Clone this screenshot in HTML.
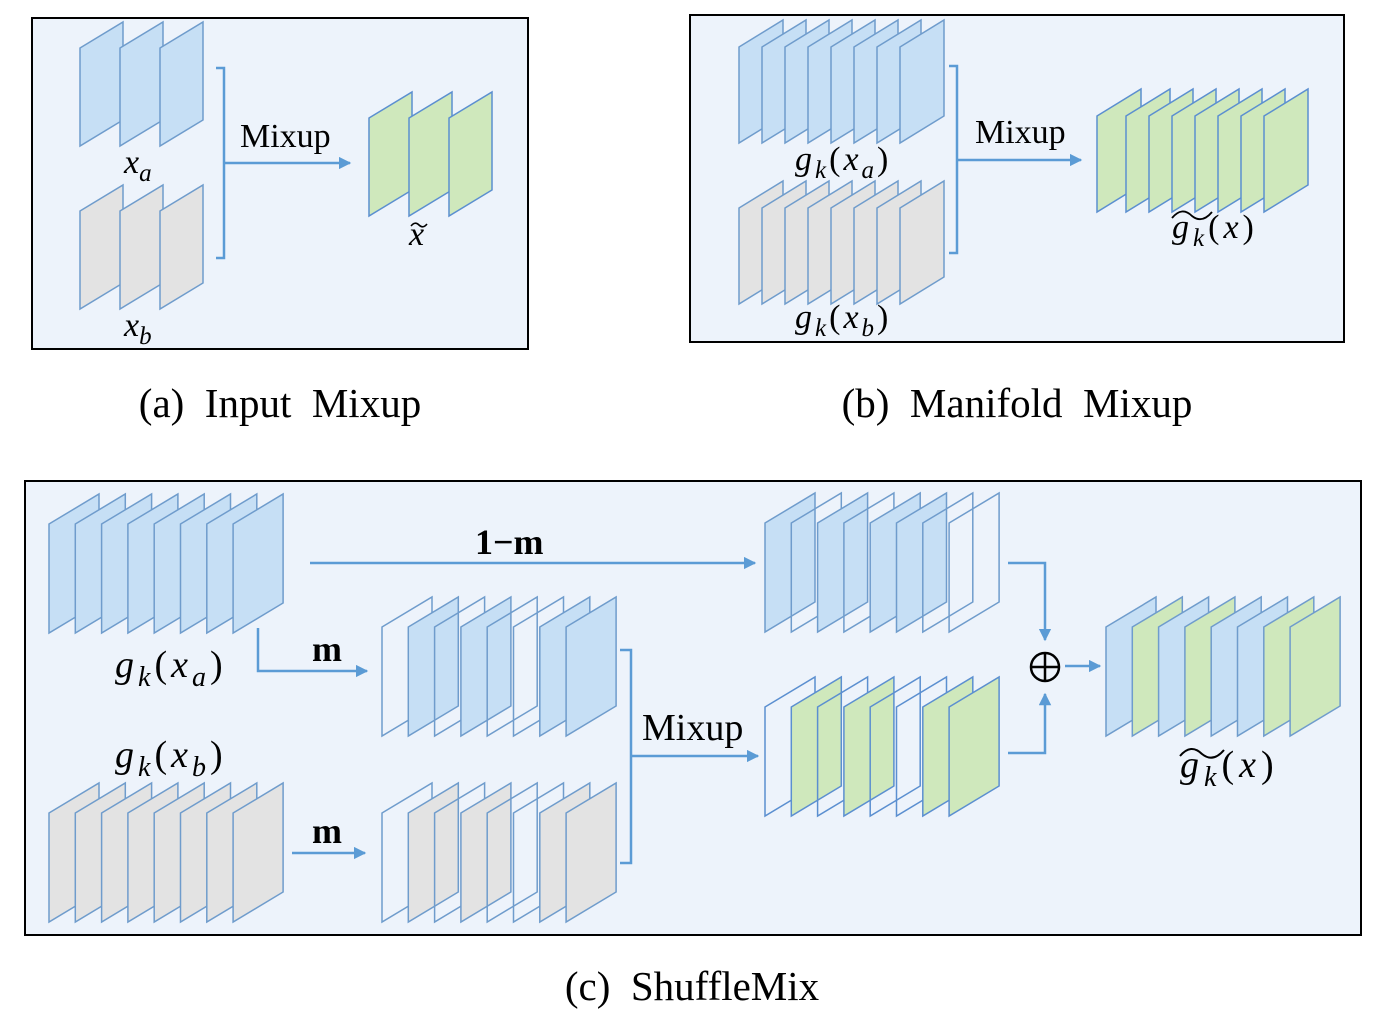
<!DOCTYPE html>
<html><head><meta charset="utf-8"><style>
html,body{margin:0;padding:0;background:#fff;}
svg{display:block;font-family:"Liberation Serif","Times New Roman",serif;}
svg text{font-family:"Liberation Serif","Times New Roman",serif;fill:#000;}
.it{font-style:italic;}
</style></head><body>
<svg width="1386" height="1013" viewBox="0 0 1386 1013" xmlns="http://www.w3.org/2000/svg" font-family="Liberation Serif, serif">
<defs>
<polygon id="pa" points="0,26 43,0 43,98 0,124"/>
<polygon id="pb" points="0,27 44,0 44,96 0,123"/>
<polygon id="pc" points="0,30 50,0 50,109 0,139"/>
<marker id="ar" viewBox="0 0 10 10" refX="9" refY="5" markerWidth="5" markerHeight="5" orient="auto"><path d="M0,0 L10,5 L0,10 z" fill="#5b9bd5"/></marker>
</defs>
<g stroke-width="1.5">
<!-- (a) -->
<rect x="32" y="18" width="496" height="331" fill="#edf3fb" stroke="#000" stroke-width="2"/>
<g fill="#c6dff5" stroke="#6f9ccc"><use href="#pa" x="80" y="22"/><use href="#pa" x="120" y="22"/><use href="#pa" x="160" y="22"/></g>
<g fill="#e3e3e3" stroke="#6f9ccc"><use href="#pa" x="80" y="185"/><use href="#pa" x="120" y="185"/><use href="#pa" x="160" y="185"/></g>
<g fill="#cfe8bc" stroke="#5b8fd0"><use href="#pa" x="369" y="92"/><use href="#pa" x="409" y="92"/><use href="#pa" x="449" y="92"/></g>
<g fill="none" stroke="#5b9bd5" stroke-width="2.5">
<path d="M216,68 H224 V258 H216"/>
<path d="M224,163 H350" marker-end="url(#ar)"/>
</g>
<!-- (b) -->
<rect x="690" y="15" width="654" height="327" fill="#edf3fb" stroke="#000" stroke-width="2"/>
<g fill="#c6dff5" stroke="#6f9ccc">
<use href="#pb" x="739" y="20"/><use href="#pb" x="762" y="20"/><use href="#pb" x="785" y="20"/><use href="#pb" x="808" y="20"/><use href="#pb" x="831" y="20"/><use href="#pb" x="854" y="20"/><use href="#pb" x="877" y="20"/><use href="#pb" x="900" y="20"/></g>
<g fill="#e3e3e3" stroke="#6f9ccc">
<use href="#pb" x="739" y="181"/><use href="#pb" x="762" y="181"/><use href="#pb" x="785" y="181"/><use href="#pb" x="808" y="181"/><use href="#pb" x="831" y="181"/><use href="#pb" x="854" y="181"/><use href="#pb" x="877" y="181"/><use href="#pb" x="900" y="181"/></g>
<g fill="#cfe8bc" stroke="#5b8fd0">
<use href="#pb" x="1097" y="89"/><use href="#pb" x="1126" y="89"/><use href="#pb" x="1149" y="89"/><use href="#pb" x="1172" y="89"/><use href="#pb" x="1195" y="89"/><use href="#pb" x="1218" y="89"/><use href="#pb" x="1241" y="89"/><use href="#pb" x="1264" y="89"/></g>
<g fill="none" stroke="#5b9bd5" stroke-width="2.5">
<path d="M949,66 H957 V253 H949"/>
<path d="M957,160 H1081" marker-end="url(#ar)"/>
</g>
<!-- (c) -->
<rect x="25" y="481" width="1336" height="454" fill="#edf3fb" stroke="#000" stroke-width="2"/>
<g fill="#c6dff5" stroke="#6f9ccc">
<use href="#pc" x="49" y="494"/><use href="#pc" x="75.3" y="494"/><use href="#pc" x="101.6" y="494"/><use href="#pc" x="127.9" y="494"/><use href="#pc" x="154.2" y="494"/><use href="#pc" x="180.5" y="494"/><use href="#pc" x="206.8" y="494"/><use href="#pc" x="233.1" y="494"/></g>
<g fill="#e3e3e3" stroke="#6f9ccc">
<use href="#pc" x="49" y="783"/><use href="#pc" x="75.3" y="783"/><use href="#pc" x="101.6" y="783"/><use href="#pc" x="127.9" y="783"/><use href="#pc" x="154.2" y="783"/><use href="#pc" x="180.5" y="783"/><use href="#pc" x="206.8" y="783"/><use href="#pc" x="233.1" y="783"/></g>
<g stroke="#6f9ccc">
<use href="#pc" x="382" y="597" fill="none"/><use href="#pc" x="408.3" y="597" fill="#c6dff5"/><use href="#pc" x="434.6" y="597" fill="none"/><use href="#pc" x="460.9" y="597" fill="#c6dff5"/><use href="#pc" x="487.2" y="597" fill="none"/><use href="#pc" x="513.5" y="597" fill="none"/><use href="#pc" x="539.8" y="597" fill="#c6dff5"/><use href="#pc" x="566.1" y="597" fill="#c6dff5"/>
</g>
<g stroke="#6f9ccc">
<use href="#pc" x="382" y="783" fill="none"/><use href="#pc" x="408.3" y="783" fill="#e3e3e3"/><use href="#pc" x="434.6" y="783" fill="none"/><use href="#pc" x="460.9" y="783" fill="#e3e3e3"/><use href="#pc" x="487.2" y="783" fill="none"/><use href="#pc" x="513.5" y="783" fill="none"/><use href="#pc" x="539.8" y="783" fill="#e3e3e3"/><use href="#pc" x="566.1" y="783" fill="#e3e3e3"/>
</g>
<g stroke="#6f9ccc">
<use href="#pc" x="765" y="493" fill="#c6dff5"/><use href="#pc" x="791.3" y="493" fill="none"/><use href="#pc" x="817.6" y="493" fill="#c6dff5"/><use href="#pc" x="843.9" y="493" fill="none"/><use href="#pc" x="870.2" y="493" fill="#c6dff5"/><use href="#pc" x="896.5" y="493" fill="#c6dff5"/><use href="#pc" x="922.8" y="493" fill="none"/><use href="#pc" x="949.1" y="493" fill="none"/>
</g>
<g stroke="#5b8fd0">
<use href="#pc" x="765" y="677" fill="none"/><use href="#pc" x="791.3" y="677" fill="#cfe8bc"/><use href="#pc" x="817.6" y="677" fill="none"/><use href="#pc" x="843.9" y="677" fill="#cfe8bc"/><use href="#pc" x="870.2" y="677" fill="none"/><use href="#pc" x="896.5" y="677" fill="none"/><use href="#pc" x="922.8" y="677" fill="#cfe8bc"/><use href="#pc" x="949.1" y="677" fill="#cfe8bc"/>
</g>
<g stroke="#6f9ccc">
<use href="#pc" x="1106" y="597" fill="#c6dff5"/><use href="#pc" x="1132.3" y="597" fill="#cfe8bc"/><use href="#pc" x="1158.6" y="597" fill="#c6dff5"/><use href="#pc" x="1184.9" y="597" fill="#cfe8bc"/><use href="#pc" x="1211.2" y="597" fill="#c6dff5"/><use href="#pc" x="1237.5" y="597" fill="#c6dff5"/><use href="#pc" x="1263.8" y="597" fill="#cfe8bc"/><use href="#pc" x="1290.1" y="597" fill="#cfe8bc"/>
</g>
<g fill="none" stroke="#5b9bd5" stroke-width="2.5">
<path d="M310,563 H755" marker-end="url(#ar)"/>
<path d="M258,628 V671 H367" marker-end="url(#ar)"/>
<path d="M292,853 H365" marker-end="url(#ar)"/>
<path d="M620,650 H631 V863 H620"/>
<path d="M631,756 H758" marker-end="url(#ar)"/>
<path d="M1008,563 H1045 V640" marker-end="url(#ar)"/>
<path d="M1008,753 H1045 V694" marker-end="url(#ar)"/>
<path d="M1065,666 H1100" marker-end="url(#ar)"/>
</g>
<g fill="none" stroke="#000" stroke-width="2.5">
<circle cx="1045" cy="667" r="14"/>
<path d="M1031,667 H1059 M1045,653 V681"/>
</g>
</g>
<!-- text (a) -->
<text x="240" y="147" font-size="34">Mixup</text>
<text x="124" y="173" font-size="34" class="it">x<tspan font-size="25" dy="8">a</tspan></text>
<text x="124" y="336" font-size="34" class="it">x<tspan font-size="25" dy="8">b</tspan></text>
<text x="409" y="245" font-size="34" class="it">x</text>
<path d="M411,226 q4,-5 8,-1 q4,4 8,-1" fill="none" stroke="#000" stroke-width="1.6"/>
<!-- text (b) -->
<text x="975" y="143" font-size="34">Mixup</text>
<text x="795" y="170" font-size="34" class="it" letter-spacing="3">g<tspan font-size="25" dy="8">k</tspan><tspan dy="-8" font-style="normal">(</tspan>x<tspan font-size="25" dy="8">a</tspan><tspan dy="-8" font-style="normal">)</tspan></text>
<text x="795" y="328" font-size="34" class="it" letter-spacing="3">g<tspan font-size="25" dy="8">k</tspan><tspan dy="-8" font-style="normal">(</tspan>x<tspan font-size="25" dy="8">b</tspan><tspan dy="-8" font-style="normal">)</tspan></text>
<text x="1172" y="238" font-size="34" class="it" letter-spacing="4">g<tspan font-size="25" dy="8">k</tspan><tspan dy="-8" font-style="normal">(</tspan>x<tspan font-style="normal">)</tspan></text>
<path d="M1172,218 q10,-12 20,-2 q10,8 20,-4" fill="none" stroke="#000" stroke-width="1.8"/>
<!-- text (c) -->
<text x="475" y="554" font-size="36" font-weight="bold">1−m</text>
<text x="312" y="661" font-size="36" font-weight="bold">m</text>
<text x="312" y="843" font-size="36" font-weight="bold">m</text>
<text x="642" y="740" font-size="38">Mixup</text>
<text x="115" y="677" font-size="38" class="it" letter-spacing="4">g<tspan font-size="28" dy="9">k</tspan><tspan dy="-9" font-style="normal">(</tspan>x<tspan font-size="28" dy="9">a</tspan><tspan dy="-9" font-style="normal">)</tspan></text>
<text x="115" y="767" font-size="38" class="it" letter-spacing="4">g<tspan font-size="28" dy="9">k</tspan><tspan dy="-9" font-style="normal">(</tspan>x<tspan font-size="28" dy="9">b</tspan><tspan dy="-9" font-style="normal">)</tspan></text>
<text x="1180" y="777" font-size="38" class="it" letter-spacing="5">g<tspan font-size="28" dy="9">k</tspan><tspan dy="-9" font-style="normal">(</tspan>x<tspan font-style="normal">)</tspan></text>
<path d="M1180,756 q11,-13 22,-2 q11,9 22,-4" fill="none" stroke="#000" stroke-width="2"/>
<!-- captions -->
<text x="280" y="417" font-size="41" text-anchor="middle" xml:space="preserve">(a)  Input  Mixup</text>
<text x="1017" y="417" font-size="41" text-anchor="middle" xml:space="preserve">(b)  Manifold  Mixup</text>
<text x="692" y="1000" font-size="41" text-anchor="middle" xml:space="preserve">(c)  ShuffleMix</text>
</svg>
</body></html>
